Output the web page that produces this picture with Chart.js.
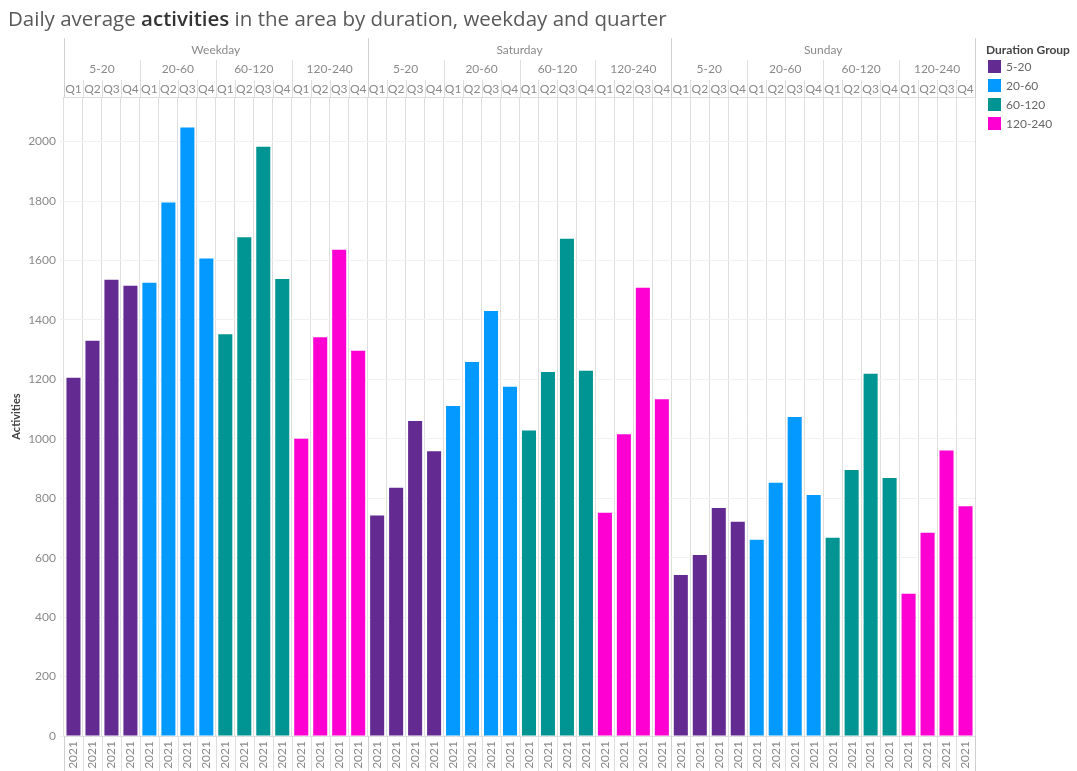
<!DOCTYPE html>
<html>
<head>
<meta charset="utf-8">
<script src="https://cdn.jsdelivr.net/npm/chart.js@4.4.0/dist/chart.umd.min.js"></script>
<style>
  html, body { margin: 0; padding: 0; background: #fff; }
  #wrap { position: relative; width: 1077px; height: 771px; }
  #title { position: absolute; left: 8px; top: 4px; font-family: "Open Sans", sans-serif; font-size: 20.5px; color: #595959; white-space: nowrap; }
  #title b { color: #333; font-weight: 600; }
  #legend { position: absolute; left: 988px; top: 42px; font-family: Lato, sans-serif; font-size: 12px; color: #666; }
  #legend .hd { font-weight: 700; color: #444; margin-bottom: 0px; margin-left: -2px; }
  #legend .row { display: flex; align-items: center; height: 19px; }
  #legend .sw { width: 13px; height: 13px; margin-right: 5px; }
</style>
</head>
<body>
<div id="wrap">
  <div id="title">Daily average <b>activities</b> in the area by duration, weekday and quarter</div>
  <div id="legend"></div>
  <canvas id="chart" width="1077" height="771"></canvas>
</div>
<script>
const dayTypes = ['Weekday', 'Saturday', 'Sunday'];
const durationGroups = ['5-20', '20-60', '60-120', '120-240'];
const quarters = ['Q1', 'Q2', 'Q3', 'Q4'];
const yearLabel = '2021';
const groupColors = ['#632b92', '#0499fe', '#009592', '#fe00d2'];

// values per duration group: Weekday Q1-Q4, Saturday Q1-Q4, Sunday Q1-Q4
const dur5to20 = [1205, 1330, 1535, 1515, 742, 835, 1060, 958, 542, 609, 767, 721];
const dur20to60 = [1525, 1795, 2047, 1607, 1110, 1258, 1430, 1175, 660, 852, 1073, 811];
const dur60to120 = [1352, 1678, 1983, 1538, 1028, 1225, 1673, 1229, 667, 895, 1219, 868];
const dur120to240 = [1000, 1342, 1636, 1296, 751, 1015, 1508, 1133, 479, 684, 961, 773];
const groupValues = [dur5to20, dur20to60, dur60to120, dur120to240];

const labels = [];
const values = [];
const colors = [];
dayTypes.forEach((day, d) => {
  durationGroups.forEach((dur, g) => {
    quarters.forEach((q, k) => {
      labels.push(day + ' ' + dur + ' ' + q);
      values.push(groupValues[g][d * 4 + k]);
      colors.push(groupColors[g]);
    });
  });
});

const legend = document.getElementById('legend');
legend.innerHTML = '<div class="hd">Duration Group</div>' + durationGroups.map((g, i) =>
  '<div class="row"><span class="sw" style="background:' + groupColors[i] + '"></span>' + g + '</div>').join('');

const FONT = 'Lato, sans-serif';

const headerPlugin = {
  id: 'header',
  afterDraw(chart) {
    const ctx = chart.ctx;
    const x = chart.scales.x;
    const area = chart.chartArea;
    const colW = x.width / labels.length;
    const edge = i => x.left + i * colW;
    ctx.save();
    ctx.lineWidth = 1;
    // separators in header and below the axis
    for (let i = 0; i <= labels.length; i++) {
      let y0 = 80;
      if (i % 4 === 0) y0 = 60;
      if (i % 16 === 0) y0 = 38;
      ctx.strokeStyle = i % 16 === 0 ? '#cfcfcf' : '#dedede';
      const px = Math.round(edge(i)) + 0.5;
      ctx.beginPath();
      ctx.moveTo(px, y0);
      ctx.lineTo(px, area.top);
      ctx.moveTo(px, area.bottom);
      ctx.lineTo(px, chart.height);
      ctx.stroke();
    }
    ctx.strokeStyle = '#dedede';
    ctx.beginPath();
    ctx.moveTo(area.left, area.top + 0.5);
    ctx.lineTo(area.right, area.top + 0.5);
    ctx.stroke();
    // texts
    ctx.fillStyle = '#8a8a8a';
    ctx.textAlign = 'center';
    ctx.textBaseline = 'middle';
    ctx.font = '12px ' + FONT;
    dayTypes.forEach((day, d) => {
      ctx.fillText(day, (edge(d * 16) + edge(d * 16 + 16)) / 2, 50);
      durationGroups.forEach((dur, g) => {
        const s = d * 16 + g * 4;
        ctx.fillText(dur, (edge(s) + edge(s + 4)) / 2, 69);
        quarters.forEach((q, k) => {
          ctx.fillText(q, (edge(s + k) + edge(s + k + 1)) / 2, 89);
        });
      });
    });
    ctx.restore();
  }
};

new Chart(document.getElementById('chart'), {
  type: 'bar',
  data: {
    labels: labels,
    datasets: [{
      label: 'Activities',
      data: values,
      backgroundColor: colors,
      barPercentage: 0.74,
      categoryPercentage: 1.0
    }]
  },
  options: {
    responsive: false,
    animation: false,
    layout: { padding: { top: 97, right: 102, left: 0, bottom: 0 } },
    plugins: { legend: { display: false }, tooltip: { enabled: false } },
    scales: {
      x: {
        offset: true,
        grid: { offset: true, color: '#dedede', tickLength: 0, drawOnChartArea: true },
        border: { color: '#dedede' },
        ticks: {
          minRotation: 90, maxRotation: 90, autoSkip: false,
          color: '#8a8a8a', font: { family: FONT, size: 12 },
          padding: 5,
          callback: () => yearLabel
        },
        afterFit: s => { s.height = 35; }
      },
      y: {
        min: 0, max: 2150,
        ticks: {
          stepSize: 200, includeBounds: false,
          color: '#8a8a8a', font: { family: FONT, size: 12 }, padding: 4,
          callback: v => String(v)
        },
        grid: { color: '#f1f1f1', tickLength: 4 },
        border: { display: false },
        title: { display: true, text: 'Activities', color: '#444', font: { family: FONT, size: 11, weight: 'bold' }, padding: { top: 10, bottom: 0 } },
        afterFit: s => { s.width = 64; }
      }
    }
  },
  plugins: [headerPlugin]
});
</script>
</body>
</html>
